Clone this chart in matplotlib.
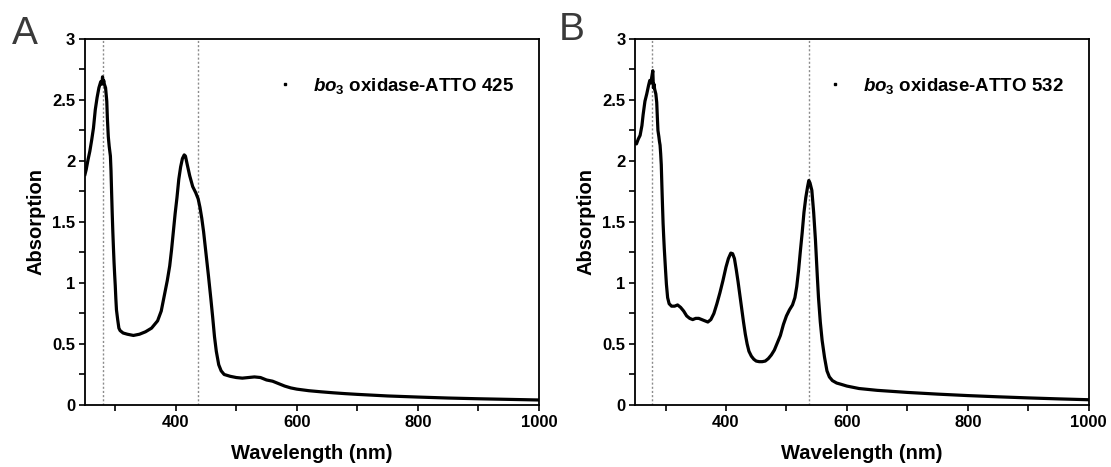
import numpy as np
from matplotlib import pyplot as plt
from matplotlib.lines import Line2D
from matplotlib.ticker import MultipleLocator

plt.rcParams['font.family'] = ['Liberation Sans', 'DejaVu Sans']
plt.rcParams['mathtext.fontset'] = 'custom'
plt.rcParams['mathtext.it'] = 'Liberation Sans:italic:bold'
plt.rcParams['mathtext.rm'] = 'Liberation Sans:bold'

# panel A: bo3 oxidase-ATTO 425
wavelengthA = [250, 252, 255, 258, 261, 264, 267, 270, 273, 276, 278, 279, 280, 281, 282, 284,
               286, 287, 288.5, 290, 292, 293, 294, 295, 296, 297, 298, 299, 300, 301, 302, 304,
               306, 308, 313, 320, 330, 340, 350, 360, 370, 376, 382, 386, 390, 393, 396, 399,
               402, 405, 408, 411, 414, 416, 419, 423, 428, 433, 437, 440, 443, 446, 450, 454,
               458, 461, 464, 467, 471, 475, 480, 490, 500, 510, 520, 530, 540, 550, 560, 570,
               580, 590, 600, 620, 640, 660, 680, 700, 750, 800, 850, 900, 950, 1000]
absorptionA = [1.89, 1.93, 2.01, 2.08, 2.17, 2.27, 2.42, 2.52, 2.60, 2.65, 2.63, 2.69, 2.64, 2.66, 2.63, 2.60,
               2.49, 2.35, 2.20, 2.12, 2.04, 1.92, 1.74, 1.57, 1.42, 1.29, 1.17, 1.07, 0.98, 0.87, 0.78, 0.70,
               0.63, 0.61, 0.59, 0.58, 0.57, 0.58, 0.60, 0.63, 0.69, 0.77, 0.92, 1.02, 1.14, 1.27, 1.42, 1.57,
               1.70, 1.85, 1.95, 2.02, 2.05, 2.04, 1.97, 1.88, 1.79, 1.74, 1.69, 1.62, 1.53, 1.42, 1.24, 1.06,
               0.87, 0.72, 0.56, 0.44, 0.33, 0.28, 0.25, 0.235, 0.225, 0.22, 0.225, 0.23, 0.225, 0.205, 0.195, 0.175,
               0.155, 0.14, 0.13, 0.117, 0.108, 0.100, 0.093, 0.087, 0.074, 0.065, 0.057, 0.051, 0.046, 0.041]

# panel B: bo3 oxidase-ATTO 532
wavelengthB = [250, 252, 255, 258, 261, 263, 266, 269, 272, 274, 276, 277, 279, 280, 281, 282,
               284, 285.5, 286.5, 287.5, 289, 290, 291, 292, 293, 294, 295, 296, 297, 298, 300, 301.5,
               303.5, 306, 310, 315, 320, 325, 330, 335, 340, 345, 350, 355, 360, 365, 370, 375,
               380, 385, 390, 395, 400, 404, 408, 411, 414, 417, 420, 423, 426, 429, 432, 435,
               438, 442, 446, 450, 455, 460, 465, 470, 475, 480, 485, 490, 495, 500, 505, 510,
               514, 517, 520, 523, 526, 529, 532, 535, 537, 539, 542, 545, 548, 551, 553, 556,
               559, 563, 567, 571, 576, 583, 590, 600, 620, 650, 700, 750, 800, 850, 900, 950, 1000]
absorptionB = [2.15, 2.14, 2.18, 2.21, 2.29, 2.38, 2.49, 2.55, 2.62, 2.66, 2.64, 2.68, 2.74, 2.60, 2.63, 2.59,
               2.55, 2.48, 2.36, 2.25, 2.20, 2.16, 2.13, 2.06, 1.97, 1.80, 1.64, 1.49, 1.38, 1.28, 1.11, 0.99,
               0.88, 0.83, 0.81, 0.81, 0.82, 0.80, 0.77, 0.73, 0.71, 0.70, 0.71, 0.71, 0.70, 0.69, 0.68, 0.70,
               0.75, 0.83, 0.92, 1.02, 1.13, 1.20, 1.245, 1.24, 1.20, 1.11, 1.01, 0.90, 0.79, 0.68, 0.58, 0.50,
               0.44, 0.40, 0.375, 0.36, 0.355, 0.355, 0.36, 0.38, 0.41, 0.45, 0.51, 0.57, 0.66, 0.73, 0.78, 0.82,
               0.88, 0.97, 1.10, 1.26, 1.41, 1.58, 1.70, 1.79, 1.84, 1.82, 1.76, 1.58, 1.35, 1.06, 0.88, 0.68,
               0.53, 0.39, 0.28, 0.23, 0.20, 0.18, 0.17, 0.155, 0.135, 0.12, 0.103, 0.089, 0.077, 0.067, 0.058, 0.05, 0.043]

markerLinesA = [280, 436]
markerLinesB = [278, 537]
labelA = r'$\mathit{bo}_\mathit{3}$ oxidase-ATTO 425'
labelB = r'$\mathit{bo}_\mathit{3}$ oxidase-ATTO 532'


def drawPanel(ax, wl, ab, lines, label):
    for x in lines:
        ax.axvline(x, color='#8c8c8c', ls=(0, (1.5, 1.5)), lw=1.0, zorder=1)
    ax.plot(wl, ab, color='black', lw=2.3, solid_joinstyle='round', zorder=3)
    ax.set_xlim(250, 1000)
    ax.set_ylim(0, 3)
    ax.xaxis.set_minor_locator(MultipleLocator(100))
    ax.yaxis.set_minor_locator(MultipleLocator(0.25))
    ax.set_xticks([400, 600, 800, 1000])
    ax.set_yticks([0, 0.5, 1, 1.5, 2, 2.5, 3])
    ax.set_yticklabels(['0', '0.5', '1', '1.5', '2', '2.5', '3'])
    ax.tick_params(which='both', direction='out', length=4, width=1.2, labelsize=12, pad=3)
    for lab in ax.get_xticklabels() + ax.get_yticklabels():
        lab.set_fontweight('bold')
    for s in ax.spines.values():
        s.set_linewidth(1.3)
    ax.set_xlabel('Wavelength (nm)', fontsize=14.5, fontweight='bold', labelpad=10.5)
    ax.set_ylabel('Absorption', fontsize=14.5, fontweight='bold', labelpad=5)
    handle = Line2D([], [], color='black', ls='none', marker='s', ms=2)
    ax.legend([handle], [label], loc='upper right', bbox_to_anchor=(0.982, 0.945),
              frameon=False, handlelength=1.0, handletextpad=1.0,
              prop={'size': 13.5, 'weight': 'bold'})


fig = plt.figure(figsize=(11.11, 4.67), dpi=100)

axA = fig.add_axes([0.0765, 0.1328, 0.4085, 0.7837])
drawPanel(axA, wavelengthA, absorptionA, markerLinesA, labelA)

axB = fig.add_axes([0.5718, 0.1328, 0.4082, 0.7837])
drawPanel(axB, wavelengthB, absorptionB, markerLinesB, labelB)

fig.text(0.011, 0.905, 'A', fontsize=28, color='#3a3a3a')
fig.text(0.503, 0.915, 'B', fontsize=28, color='#3a3a3a')

plt.savefig('out.png', dpi=100)
